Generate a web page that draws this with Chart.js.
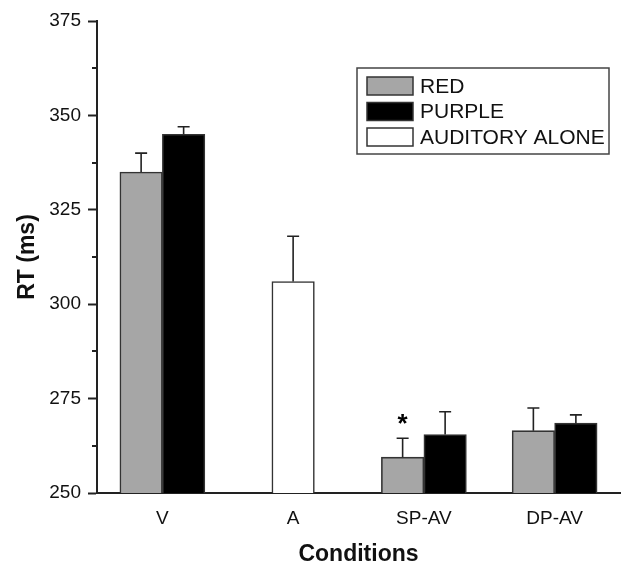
<!DOCTYPE html>
<html>
<head>
<meta charset="utf-8">
<script src="https://cdn.jsdelivr.net/npm/chart.js@4"></script>
<style>
  html, body { margin: 0; padding: 0; background: #fff; }
  #wrap { width: 622px; height: 566px; }
</style>
</head>
<body>
<div id="wrap"><canvas id="rtChart" width="622" height="566"></canvas></div>
<script>
// --- data ---
const conditions = ['V', 'A', 'SP-AV', 'DP-AV'];
const redRT = [335, null, 259.5, 266.5];
const purpleRT = [345, null, 265.5, 268.5];
const auditoryRT = [null, 306, null, null];
const redErr = [5, null, 5, 6];
const purpleErr = [2, null, 6, 2.2];
const auditoryErr = [null, 12, null, null];
const redSig = [null, null, '*', null];
const yTicks = [250, 275, 300, 325, 350, 375];

const FONT = "'Liberation Sans', Arial, Helvetica, sans-serif";

// error bars (upper half only, with a cap) + significance marks
const errorBarPlugin = {
    id: 'errorBars',
    afterDatasetsDraw(chart) {
        const ctx = chart.ctx;
        const y = chart.scales.y;
        chart.data.datasets.forEach((ds, i) => {
            const meta = chart.getDatasetMeta(i);
            meta.data.forEach((bar, j) => {
                const v = ds.data[j];
                const e = ds.errors ? ds.errors[j] : null;
                if (v == null || e == null) return;
                const yTop = y.getPixelForValue(v + e);
                ctx.save();
                ctx.strokeStyle = '#222';
                ctx.lineWidth = 1.6;
                ctx.beginPath();
                ctx.moveTo(bar.x, bar.y);
                ctx.lineTo(bar.x, yTop);
                ctx.moveTo(bar.x - 6, yTop);
                ctx.lineTo(bar.x + 6, yTop);
                ctx.stroke();
                const mark = ds.marks ? ds.marks[j] : null;
                if (mark) {
                    ctx.fillStyle = '#000';
                    ctx.font = 'bold 26px ' + FONT;
                    ctx.textAlign = 'center';
                    ctx.textBaseline = 'middle';
                    ctx.fillText(mark, bar.x, yTop - 13);
                }
                ctx.restore();
            });
        });
    }
};

// minor ticks on the y axis, halfway between labelled ticks
const minorTickPlugin = {
    id: 'minorTicks',
    afterDraw(chart) {
        const ctx = chart.ctx;
        const y = chart.scales.y;
        const x0 = chart.chartArea.left;
        ctx.save();
        ctx.strokeStyle = '#222';
        ctx.lineWidth = 2;
        for (let k = 0; k < yTicks.length - 1; k++) {
            const py = Math.round(y.getPixelForValue((yTicks[k] + yTicks[k + 1]) / 2));
            ctx.beginPath();
            ctx.moveTo(x0 - 5, py);
            ctx.lineTo(x0, py);
            ctx.stroke();
        }
        ctx.restore();
    }
};

// boxed legend inside the plot, top right
const boxLegendPlugin = {
    id: 'boxLegend',
    afterDraw(chart) {
        const ctx = chart.ctx;
        const area = chart.chartArea;
        const right = area.right - 11;
        const left = right - 252;
        const top = area.top + 47;
        const rowH = 25.5;
        const sets = chart.data.datasets;
        ctx.save();
        ctx.strokeStyle = '#444';
        ctx.lineWidth = 1.5;
        ctx.strokeRect(left, top, right - left, 86);
        ctx.font = '21px ' + FONT;
        ctx.textBaseline = 'middle';
        ctx.textAlign = 'left';
        sets.forEach((ds, i) => {
            const cy = top + 18 + i * rowH;
            ctx.fillStyle = ds.backgroundColor;
            ctx.fillRect(left + 10, cy - 9, 46, 18);
            ctx.strokeStyle = '#333';
            ctx.lineWidth = 1.5;
            ctx.strokeRect(left + 10, cy - 9, 46, 18);
            ctx.fillStyle = '#111';
            ctx.fillText(ds.label, left + 63, cy + 1);
        });
        ctx.restore();
    }
};

const ctx = document.getElementById('rtChart').getContext('2d');
new Chart(ctx, {
    type: 'bar',
    data: {
        labels: conditions,
        datasets: [
            { label: 'RED', data: redRT, errors: redErr, marks: redSig, backgroundColor: '#a6a6a6' },
            { label: 'PURPLE', data: purpleRT, errors: purpleErr, backgroundColor: '#000000' },
            { label: 'AUDITORY ALONE', data: auditoryRT, errors: auditoryErr, backgroundColor: '#ffffff' }
        ]
    },
    options: {
        responsive: false,
        animation: false,
        devicePixelRatio: 1,
        skipNull: true,
        barThickness: 42.5,
        borderColor: '#333',
        borderWidth: 1.6,
        layout: { padding: { left: 0, right: 2, top: 21, bottom: 0 } },
        plugins: {
            legend: { display: false },
            tooltip: { enabled: false }
        },
        scales: {
            x: {
                grid: { display: false, drawTicks: false },
                border: { display: true, color: '#222', width: 2 },
                ticks: { color: '#111', font: { family: FONT, size: 19 }, padding: 14 },
                title: {
                    display: true, text: 'Conditions', color: '#111',
                    font: { family: FONT, size: 23, weight: 'bold', lineHeight: 1 },
                    padding: 0
                },
                afterFit(s) { s.height = 73; }
            },
            y: {
                min: 250,
                max: 375,
                afterBuildTicks(s) { s.ticks = yTicks.map(v => ({ value: v })); },
                grid: {
                    display: true, drawOnChartArea: false, drawTicks: true,
                    tickLength: 9, tickColor: '#222', tickWidth: 2
                },
                border: { display: true, color: '#222', width: 2 },
                ticks: { color: '#111', font: { family: FONT, size: 19 }, padding: 7 },
                title: {
                    display: true, text: 'RT (ms)', color: '#111',
                    font: { family: FONT, size: 23, weight: 'bold', lineHeight: 1 },
                    padding: { top: 16, bottom: 0 }
                },
                afterFit(s) { s.width = 97; }
            }
        }
    },
    plugins: [errorBarPlugin, minorTickPlugin, boxLegendPlugin]
});
</script>
</body>
</html>
